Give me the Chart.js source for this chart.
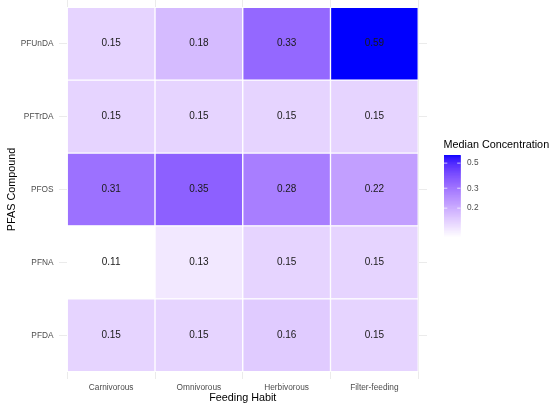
<!DOCTYPE html>
<html>
<head>
<meta charset="utf-8">
<script src="https://cdn.jsdelivr.net/npm/chart.js@4.4.1/dist/chart.umd.min.js"></script>
<style>
html,body{margin:0;padding:0;background:#fff;}
#wrap{width:550px;height:409px;position:relative;}
</style>
</head>
<body>
<div id="wrap"><canvas id="c" width="550" height="409"></canvas></div>
<script>
// ---- data ----
const feedingHabits = ['Carnivorous', 'Omnivorous', 'Herbivorous', 'Filter-feeding'];
const compounds = ['PFDA', 'PFNA', 'PFOS', 'PFTrDA', 'PFUnDA']; // bottom to top
const valPFDA   = [0.15, 0.15, 0.16, 0.15];
const valPFNA   = [0.11, 0.13, 0.15, 0.15];
const valPFOS   = [0.31, 0.35, 0.28, 0.22];
const valPFTrDA = [0.15, 0.15, 0.15, 0.15];
const valPFUnDA = [0.15, 0.18, 0.33, 0.59];
const seriesValues = [valPFDA, valPFNA, valPFOS, valPFTrDA, valPFUnDA];
const legendTicks = [0.2, 0.3, 0.5];
const legendTickLabels = ['0.2', '0.3', '0.5'];
const legendTitle = 'Median Concentration';
const xTitle = 'Feeding Habit';
const yTitle = 'PFAS Compound';

// ---- colour scale (log transform, Lab interpolation white -> blue) ----
const allVals = seriesValues.flat();
const vMin = Math.min(...allVals), vMax = Math.max(...allVals);
function srgbToLin(c){c/=255;return c<=0.04045?c/12.92:Math.pow((c+0.055)/1.055,2.4);}
function linToSrgb(c){c=Math.max(0,Math.min(1,c));return 255*(c<=0.0031308?12.92*c:1.055*Math.pow(c,1/2.4)-0.055);}
const Wn=[0.95047,1,1.08883];
function rgbToLab(r,g,b){
  const R=srgbToLin(r),G=srgbToLin(g),B=srgbToLin(b);
  const X=0.4124*R+0.3576*G+0.1805*B, Y=0.2126*R+0.7152*G+0.0722*B, Z=0.0193*R+0.1192*G+0.9505*B;
  const f=t=>t>0.008856?Math.cbrt(t):7.787*t+16/116;
  const fx=f(X/Wn[0]),fy=f(Y/Wn[1]),fz=f(Z/Wn[2]);
  return [116*fy-16,500*(fx-fy),200*(fy-fz)];
}
function labToRgb(L,a,b){
  const fy=(L+16)/116,fx=fy+a/500,fz=fy-b/200;
  const fi=t=>t*t*t>0.008856?t*t*t:(t-16/116)/7.787;
  const X=fi(fx)*Wn[0],Y=fi(fy)*Wn[1],Z=fi(fz)*Wn[2];
  const R=3.2406*X-1.5372*Y-0.4986*Z, G=-0.9689*X+1.8758*Y+0.0415*Z, B=0.0557*X-0.2040*Y+1.0570*Z;
  return [linToSrgb(R),linToSrgb(G),linToSrgb(B)].map(Math.round);
}
const labLow=rgbToLab(255,255,255), labHigh=rgbToLab(0,0,255);
function tOf(v){return (Math.log(v)-Math.log(vMin))/(Math.log(vMax)-Math.log(vMin));}
function colorOf(v){
  const t=Math.max(0,Math.min(1,tOf(v)));
  const c=labToRgb(labLow[0]+(labHigh[0]-labLow[0])*t,labLow[1]+(labHigh[1]-labLow[1])*t,labLow[2]+(labHigh[2]-labLow[2])*t);
  return 'rgb('+c[0]+','+c[1]+','+c[2]+')';
}

const FONT='"Liberation Sans", Arial, Helvetica, sans-serif';

const datasets = compounds.map((name, r) => ({
  label: name,
  data: seriesValues[r].map((v, c) => ({x: c + 1, y: [r + 0.5, r + 1.5], v: v})),
  backgroundColor: seriesValues[r].map(colorOf),
  borderColor: '#ffffff',
  borderWidth: 1,
  borderSkipped: false,
  grouped: false,
  categoryPercentage: 1,
  barPercentage: 1
}));

const labelPlugin = {
  id: 'cellLabels',
  afterDatasetsDraw(chart) {
    const ctx = chart.ctx, xs = chart.scales.x, ys = chart.scales.y;
    ctx.save();
    ctx.font = '10px ' + FONT;
    ctx.fillStyle = '#1a1a1a';
    ctx.textAlign = 'center';
    ctx.textBaseline = 'middle';
    compounds.forEach((name, r) => {
      seriesValues[r].forEach((v, c) => {
        ctx.fillText(v.toFixed(2), xs.getPixelForValue(c + 1), ys.getPixelForValue(r + 1));
      });
    });
    ctx.restore();
  },
  afterDraw(chart) {
    // colourbar legend
    const ctx = chart.ctx;
    const bx = 444, bw = 16.5, top = 155, h = 82.5;
    ctx.save();
    const n = 300;
    for (let i = 0; i < n; i++) {
      const t = 1 - (i + 0.5) / n;
      const v = Math.exp(Math.log(vMin) + t * (Math.log(vMax) - Math.log(vMin)));
      ctx.fillStyle = colorOf(v);
      ctx.fillRect(bx, top + i * h / n, bw, h / n + 0.6);
    }
    ctx.font = '8.3px ' + FONT;
    ctx.fillStyle = '#4d4d4d';
    ctx.textAlign = 'left';
    ctx.textBaseline = 'middle';
    legendTicks.forEach((tv, i) => {
      const y = top + (1 - tOf(tv)) * h;
      ctx.strokeStyle = 'rgba(255,255,255,0.9)';
      ctx.lineWidth = 0.8;
      ctx.beginPath();
      ctx.moveTo(bx, y); ctx.lineTo(bx + bw / 5, y);
      ctx.moveTo(bx + bw - bw / 5, y); ctx.lineTo(bx + bw, y);
      ctx.stroke();
      ctx.fillText(legendTickLabels[i], bx + bw + 6.5, y);
    });
    ctx.font = '10.8px ' + FONT;
    ctx.fillStyle = '#000';
    ctx.textBaseline = 'middle';
    ctx.fillText(legendTitle, 443.5, 145.5);
    ctx.restore();
  }
};

new Chart(document.getElementById('c'), {
  type: 'bar',
  data: {datasets: datasets},
  options: {
    responsive: false,
    animation: false,
    devicePixelRatio: 1,
    layout: {padding: {top: -2, right: 123, left: 0, bottom: 0}},
    plugins: {legend: {display: false}, tooltip: {enabled: false}},
    scales: {
      x: {
        type: 'linear',
        min: 0.4, max: 4.6,
        offset: false,
        afterBuildTicks(s) { s.ticks = feedingHabits.map((_, i) => ({value: i + 1})); },
        afterFit(s) { s.height = 30; s.paddingLeft = 0; s.paddingRight = 0; },
        ticks: {
          autoSkip: false, maxRotation: 0, padding: 4,
          font: {family: FONT, size: 8.3}, color: '#4d4d4d',
          callback: (v) => feedingHabits[Math.round(v) - 1]
        },
        grid: {color: '#ebebeb', lineWidth: 1, drawTicks: false},
        border: {display: false},
        title: {display: true, text: xTitle, color: '#000', font: {family: FONT, size: 10.8}, padding: {top: 0, bottom: 4.5}}
      },
      y: {
        type: 'linear',
        min: 0.4, max: 5.6,
        afterBuildTicks(s) { s.ticks = compounds.map((_, i) => ({value: i + 1})); },
        afterFit(s) { s.width = 58.5; s.paddingTop = 0; s.paddingBottom = 0; },
        ticks: {
          autoSkip: false, padding: 5,
          font: {family: FONT, size: 8.3}, color: '#4d4d4d',
          callback: (v) => compounds[Math.round(v) - 1]
        },
        grid: {color: '#ebebeb', lineWidth: 1, drawTicks: false},
        border: {display: false},
        title: {display: true, text: yTitle, color: '#000', font: {family: FONT, size: 10.8}, padding: {top: 5.5, bottom: 0}}
      }
    }
  },
  plugins: [labelPlugin]
});
</script>
</body>
</html>
